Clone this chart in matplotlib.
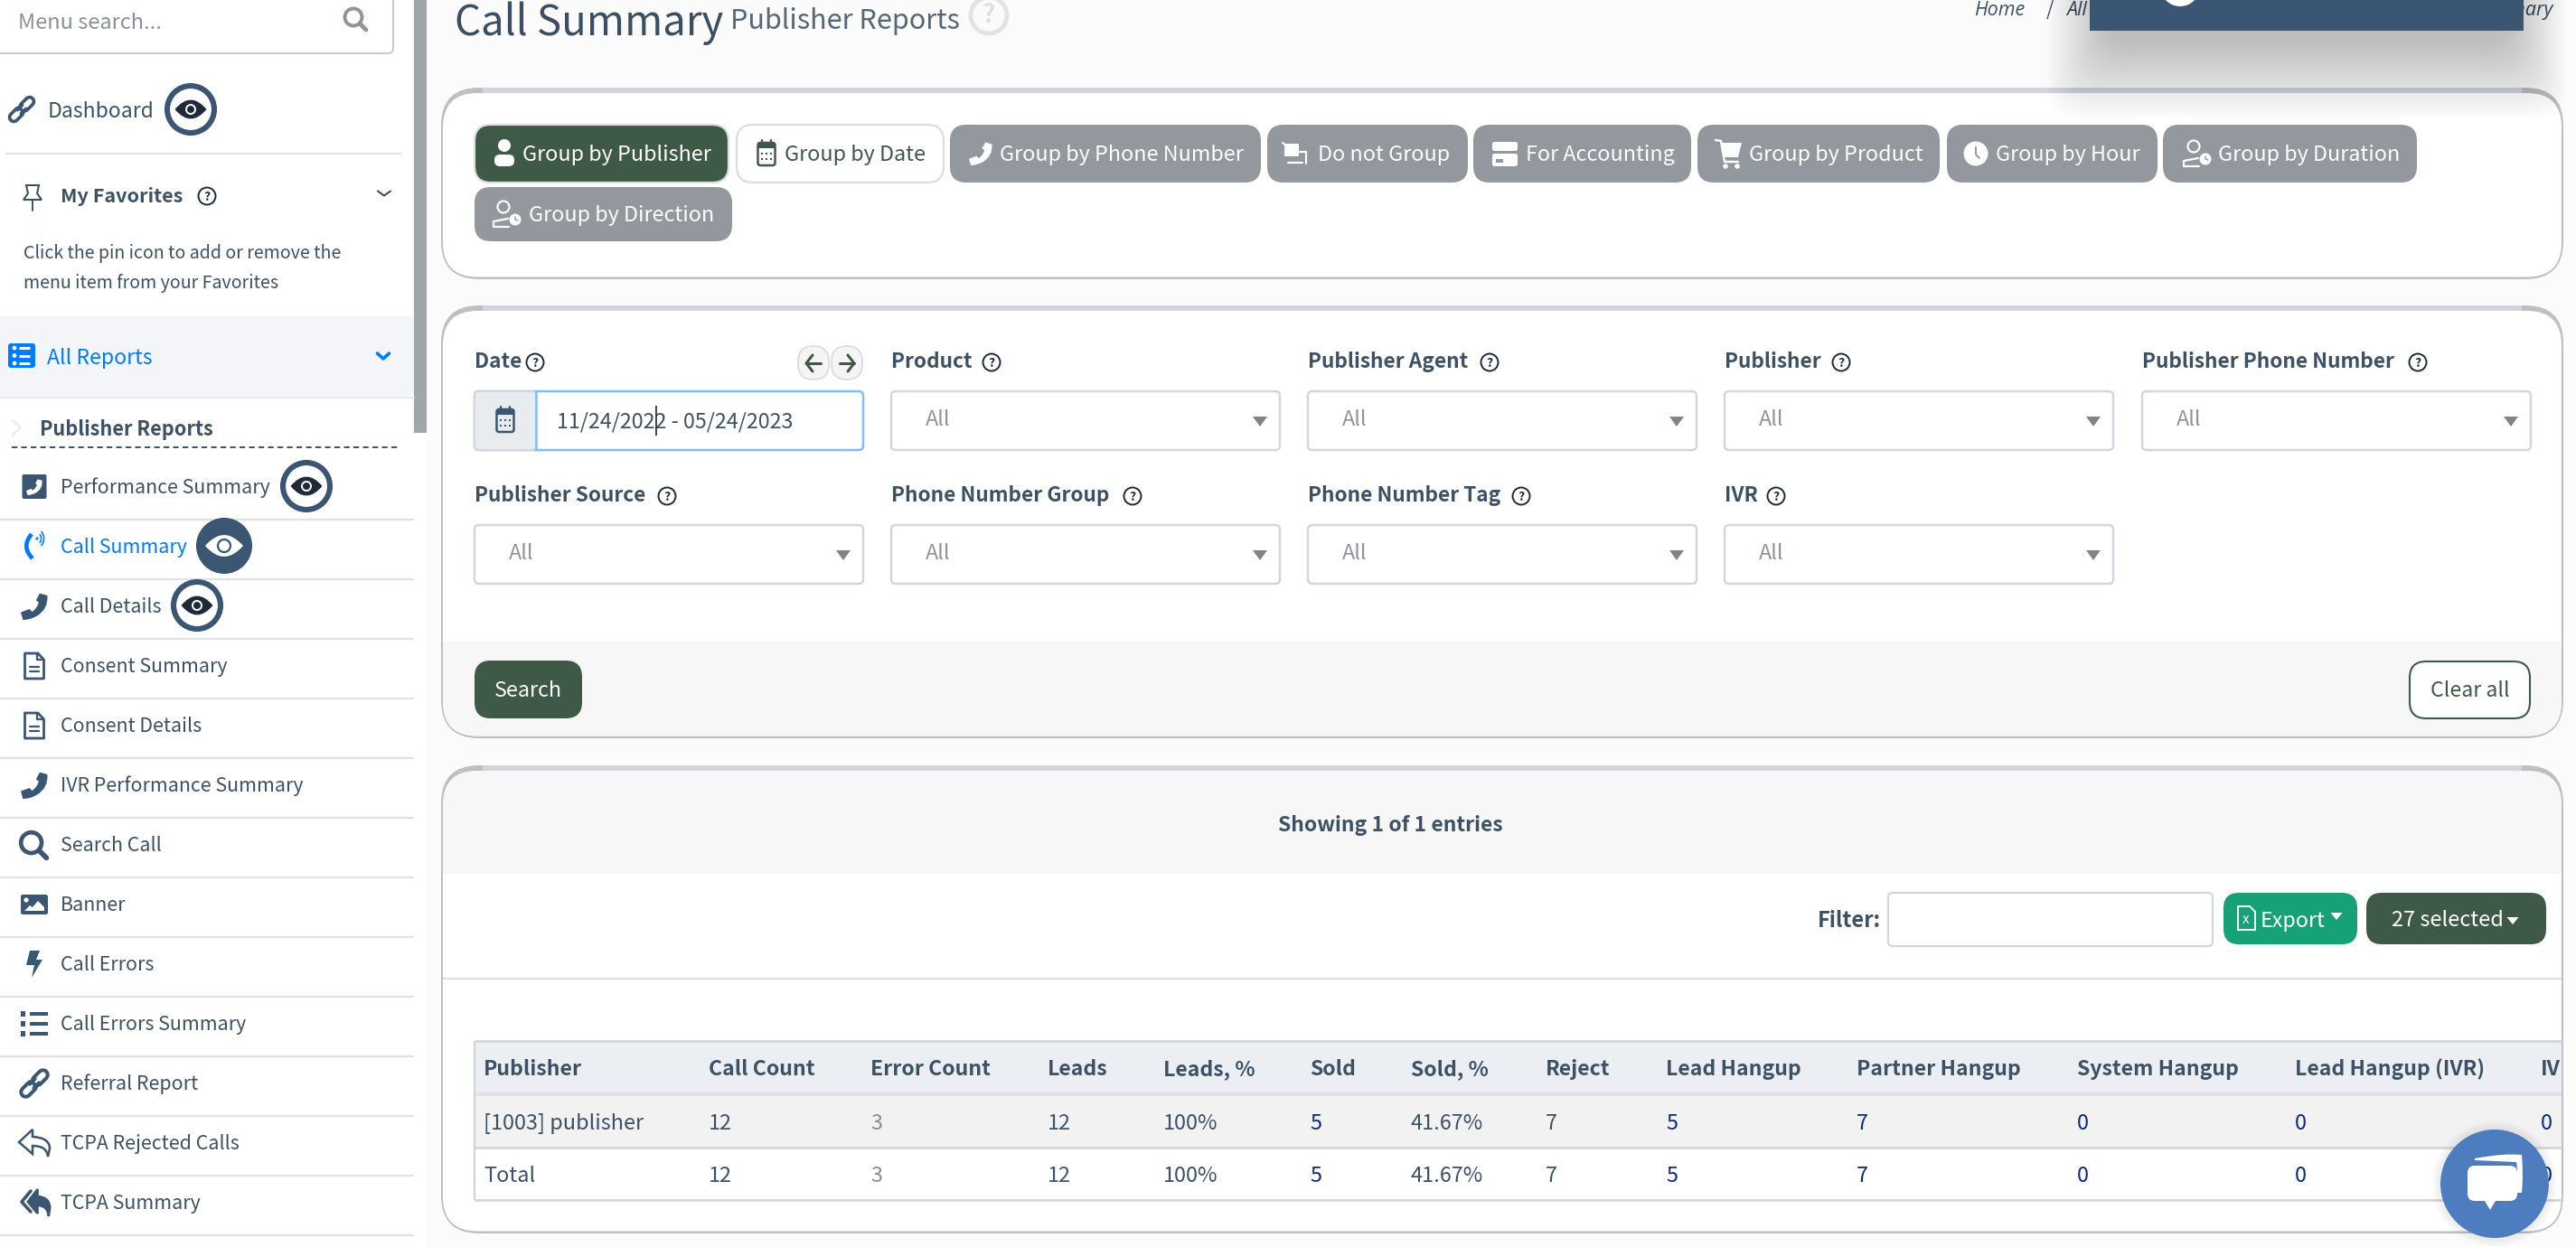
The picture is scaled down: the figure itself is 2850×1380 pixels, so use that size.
import matplotlib
matplotlib.use("Agg")
import matplotlib.pyplot as plt
from matplotlib.patches import FancyBboxPatch, Circle, Rectangle, PathPatch, Polygon, Arc
from matplotlib.path import Path

plt.rcParams['font.family'] = ['Noto Sans CJK SC', 'DejaVu Sans']

# ---------- content ----------
menu_items = ["Performance Summary", "Call Summary", "Call Details", "Consent Summary", "Consent Details",
              "IVR Performance Summary", "Search Call", "Banner", "Call Errors", "Call Errors Summary",
              "Referral Report", "TCPA Rejected Calls", "TCPA Summary"]
menu_icons = ["phonebox", "phonewave", "phone", "doc", "doc", "phone", "search", "image", "bolt", "list",
              "link", "reply", "replyall"]
group_buttons = ["Group by Publisher", "Group by Date", "Group by Phone Number", "Do not Group", "For Accounting",
                 "Group by Product", "Group by Hour", "Group by Duration", "Group by Direction"]
filter_labels_row1 = ["Date", "Product", "Publisher Agent", "Publisher", "Publisher Phone Number"]
filter_labels_row2 = ["Publisher Source", "Phone Number Group", "Phone Number Tag", "IVR"]
date_range = "11/24/2022 - 05/24/2023"
table_headers = ["Publisher", "Call Count", "Error Count", "Leads", "Leads, %", "Sold", "Sold, %", "Reject",
                 "Lead Hangup", "Partner Hangup", "System Hangup", "Lead Hangup (IVR)", "IV"]
row_publisher = ["[1003] publisher", "12", "3", "12", "100%", "5", "41.67%", "7", "5", "7", "0", "0", "0"]
row_total = ["Total", "12", "3", "12", "100%", "5", "41.67%", "7", "5", "7", "0", "0", "0"]

# ---------- layout + colours ----------
INK = "#3d5166"; NAVY = "#3a5673"; GREEN = "#3e5a47"; GREY_BTN = "#92989d"; BLUE = "#007bff"
LINK = "#0b2a86"; MUTED = "#868e96"; RULE = "#e2e3e5"; BORDER = "#d0d5dd"; DARK = "#1e2a3a"
FS_MAIN = 16.9; FS_BOLD = 16.5; FS_MENU = 15.4
menu_y0, menu_dy = 539, 66
btn_boxes = [(525, 806, 138, 202), (815, 1044, 138, 202), (1051, 1395, 138, 202), (1402, 1624, 138, 202),
             (1630, 1871, 138, 202), (1878, 2146, 138, 202), (2154, 2387, 138, 202), (2393, 2674, 138, 202),
             (525, 810, 207, 267)]
btn_text_x = [578, 868, 1106, 1458, 1688, 1935, 2208, 2454, 585]
btn_icon_x = [558, 848, 1085, 1431, 1665, 1912, 2186, 2431, 561]
btn_icons = ["person", "cal", "phone", "nogroup", "card", "cart", "clock", "personclock", "personclock"]
col_x = [535, 784, 963, 1159, 1287, 1449, 1561, 1710, 1843, 2054, 2298, 2539, 2811]
col_color = [INK, INK, MUTED, NAVY, INK, LINK, INK, INK, LINK, LINK, LINK, LINK, LINK]
field_x = [525, 986, 1447, 1908, 2370]
help_x1 = [592, 1097, 1648, 2037, 2675]
help_x2 = [738, 1253, 1683, 1965]

fig = plt.figure(figsize=(28.5, 13.8), dpi=100, facecolor="#fbfbfb")
ax = fig.add_axes([0, 0, 1, 1])
ax.set_xlim(0, 2850); ax.set_ylim(1380, 0); ax.axis("off")


def T(x, yc, s, size=FS_MAIN, color=INK, weight="normal", ha="left", z=5, clip=None, **kw):
    em = size / 0.72
    t = ax.text(x, yc + 0.33 * em, s, fontsize=size, color=color, fontweight=weight, ha=ha, va="baseline",
                zorder=z, **kw)
    if clip is not None:
        t.set_clip_path(clip)
    return t


def RR(x0, x1, y0, y1, r, fc, ec="none", lw=0, z=2, alpha=None):
    p = FancyBboxPatch((x0, y0), x1 - x0, y1 - y0, boxstyle=f"round,pad=0,rounding_size={r}", fc=fc, ec=ec, lw=lw,
                       zorder=z, alpha=alpha)
    ax.add_patch(p)
    return p


def R(x0, x1, y0, y1, fc, z=2, alpha=None):
    p = Rectangle((x0, y0), x1 - x0, y1 - y0, fc=fc, ec="none", zorder=z, alpha=alpha)
    ax.add_patch(p)
    return p


def L(xs, ys, c, lw=1.5, z=6, ls="-", cap="round"):
    ax.plot(xs, ys, color=c, lw=lw, zorder=z, ls=ls, solid_capstyle=cap, solid_joinstyle="round")


def C(x, y, r, fc, ec="none", lw=0, z=6):
    ax.add_patch(Circle((x, y), r, fc=fc, ec=ec, lw=lw, zorder=z))


def P(verts, codes, fc, ec="none", lw=0, z=6):
    ax.add_patch(PathPatch(Path(verts, codes), fc=fc, ec=ec, lw=lw, zorder=z))


def tri(x, y, w, h, c, z=6):
    ax.add_patch(Polygon([(x - w / 2, y - h / 2), (x + w / 2, y - h / 2), (x, y + h / 2)], fc=c, ec="none", zorder=z))


def chevron(x, y, c, lw=1.5, w=7, h=5):
    L([x - w, x, x + w], [y - h / 2, y + h / 2, y - h / 2], c, lw)


def eye_shape(x, y, w, h, fc):
    P([(x - w, y), (x, y - 2 * h), (x + w, y), (x, y + 2 * h), (x - w, y), (x - w, y)],
      [Path.MOVETO, Path.CURVE3, Path.CURVE3, Path.CURVE3, Path.CURVE3, Path.CLOSEPOLY], fc, z=8)


def eye(x, y, active=False):
    if active:
        C(x, y, 31, NAVY, z=7)
        eye_shape(x, y, 21, 12, "white")
        C(x, y, 7, "white", NAVY, 1.6, z=9)
    else:
        C(x, y, 26, "white", NAVY, 4.4, z=7)
        eye_shape(x, y, 17.5, 10.5, DARK)
        C(x, y, 6, "white", z=9); C(x, y, 4, DARK, z=10)


def help_icon(x, y, c=DARK, r=9.5):
    C(x, y, r, "none", c, 1.4)
    ax.text(x, y + 0.5, "?", fontsize=10, color=c, ha="center", va="center", fontweight="bold", zorder=7)


def phone(x, y, s, c):
    pts = [(.70, .02), (.98, .10), (1.02, .60), (.60, .85), (.35, 1.0), (.08, 1.0), (0, .72), (.32, .60), (.42, .70),
           (.62, .55), (.66, .35), (.56, .28), (.70, .02)]
    codes = [Path.MOVETO, Path.LINETO, Path.CURVE3, Path.CURVE3, Path.CURVE3, Path.CURVE3, Path.LINETO, Path.LINETO,
             Path.LINETO, Path.CURVE3, Path.CURVE3, Path.LINETO, Path.CLOSEPOLY]
    P([(x - s / 2 + a * s, y - s / 2 + b * s) for a, b in pts], codes, c, z=7)


def doc(x, y, c):
    ax.add_patch(Polygon([(x - 10.5, y - 14), (x + 4, y - 14), (x + 10.5, y - 7), (x + 10.5, y + 14), (x - 10.5, y + 14)],
                         fc="none", ec=c, lw=2, zorder=6, joinstyle="round"))
    L([x + 3, x + 3, x + 10], [y - 14, y - 7, y - 7], c, 1.6)
    L([x - 5, x + 5], [y + 1, y + 1], c, 1.6)
    L([x - 5, x + 5], [y + 6, y + 6], c, 1.6)


def search(x, y, c, s=1.0):
    C(x - 2 * s, y - 2 * s, 9.5 * s, "none", c, 2.8 * s)
    L([x + 5 * s, x + 12 * s], [y + 5 * s, y + 12 * s], c, 3.4 * s)


def link(x, y, c, s=1.0):
    # two interlocking rounded links along the rising diagonal
    for k, off in enumerate((-5.5, 5.5)):
        cx, cy = x + off * s, y - off * s
        L([cx - 2.8 * s, cx + 2.8 * s], [cy + 2.8 * s, cy - 2.8 * s], c, 9 * s, z=6 + 2 * k)
        L([cx - 2.8 * s, cx + 2.8 * s], [cy + 2.8 * s, cy - 2.8 * s], "white", 4 * s, z=7 + 2 * k)
    L([x - 4.5 * s, x + 0.5 * s], [y + 0.5 * s, y - 4.5 * s], c, 2.6 * s, z=10)
    L([x - 0.5 * s, x + 4.5 * s], [y + 4.5 * s, y - 0.5 * s], c, 2.6 * s, z=10)


def reply(x, y, c, filled):
    pts = [(-17, -1), (-2, -15), (-2, -7), (17, -6), (17, 6), (15, 15), (14, 3), (-2, 3), (-2, 12), (-17, -1)]
    codes = [Path.MOVETO, Path.LINETO, Path.LINETO, Path.CURVE3, Path.CURVE3, Path.LINETO, Path.CURVE3, Path.CURVE3,
             Path.LINETO, Path.CLOSEPOLY]
    if filled:
        pts = [(a * 0.72 + 5, b * 1.0) for a, b in pts]
        L([x - 4, x - 14, x - 4], [y - 13, y - 1, y + 10], c, 2.6)
    P([(x + a, y + b) for a, b in pts], codes, c if filled else "none", c, 1.8, z=7)


def person(x, y, c):
    C(x, y - 9, 7, c, z=7)
    RR(x - 11, x + 11, y + 1, y + 14, 6, c, z=7)


def personclock(x, y, c, bg):
    C(x - 4, y - 8, 6.5, "none", c, 1.6)
    L([x - 15, x - 15, x + 1], [y + 13, y + 8, y + 5], c, 1.6)
    L([x - 15, x + 2], [y + 14, y + 14], c, 1.6)
    C(x + 9, y + 6, 6.5, c, z=7)
    L([x + 9, x + 9, x + 12], [y + 3, y + 6, y + 7], bg, 1, z=8)


def cal(x, y, c, bg="none"):
    RR(x - 9.5, x + 9.5, y - 12, y + 13, 2.5, bg, c, 1.8, z=6)
    R(x - 9.5, x + 9.5, y - 12, y - 6, c, z=7)
    for dx in (-5, 5):
        L([x + dx, x + dx], [y - 15, y - 10], c, 1.6, z=7)
    for dx in (-5, 0, 5):
        for dy in (0, 6):
            R(x + dx - 1.4, x + dx + 1.4, y + dy - 1.4, y + dy + 1.4, c, z=7)


def icon(kind, x, y, c, bg="white"):
    if kind == "person":
        person(x, y, c)
    elif kind == "cal":
        cal(x, y, c)
    elif kind == "phone":
        phone(x, y, 26, c)
    elif kind == "nogroup":
        RR(x - 10, x + 6, y - 11, y + 3, 1, c, z=7)
        L([x - 12, x - 8], [y - 12, y - 9], c, 1.6)
        L([x + 7, x + 14, x + 14], [y - 2, y - 2, y + 11], c, 1.6)
        L([x - 6, x + 10], [y + 10, y + 10], c, 1.6)
    elif kind == "card":
        RR(x - 14, x + 14, y - 13, y - 3, 2.5, c, z=7)
        RR(x - 14, x + 14, y + 0, y + 14, 2.5, c, z=7)
        R(x - 10, x - 2, y + 6, y + 10, bg, z=8)
    elif kind == "cart":
        L([x - 14, x - 8, x - 4, x + 11], [y - 15, y - 14, y + 9, y + 9], c, 1.8)
        ax.add_patch(Polygon([(x - 8, y - 12), (x + 15, y - 12), (x + 11, y + 4), (x - 5, y + 4)], fc=c, ec="none", zorder=7))
        C(x - 3, y + 14, 2.8, c); C(x + 10, y + 14, 2.8, c)
    elif kind == "clock":
        C(x, y, 13.5, c, z=7)
        L([x, x, x + 4], [y - 7, y + 1, y + 5], bg, 1.4, z=8)
    elif kind == "personclock":
        personclock(x, y, c, bg)


def panel(y0, y1):
    x0, x1 = 488, 2836
    RR(x0, x1, y0, y1, 42, "#bcbfc3", z=1)
    R(x0 + 46, x1 - 46, y0, y0 + 6, BORDER, z=3)
    return RR(x0 + 2, x1 - 2, y0 + 6, y1 - 2.5, 38, "white", z=2)


# ---------- sidebar ----------
R(0, 472, 0, 1380, "white", z=0)
R(458, 472, 0, 479, "#a1a6a9", z=1)
RR(-30, 435, -30, 59, 6, "white", "#c8c9cb", 1.4, z=2)
T(20, 24, "Menu search...", 17, "#8b929a")
search(393, 21, "#8f959a", 1.0)
link(24, 121, NAVY, 1.05)
T(53, 122, "Dashboard", 16.5, INK)
eye(211, 121)
L([6, 444], [170, 170], RULE, 1.4)
# pin icon
L([36, 36], [222, 233], INK, 1.4)
ax.add_patch(Polygon([(29, 205), (43, 205), (41, 214), (46, 221), (26, 221), (31, 214)], fc="none", ec=INK, lw=1.5, zorder=6))
T(67, 217, "My Favorites", 15.5, INK, "bold")
help_icon(229, 217)
chevron(425, 214, INK, 1.5)
T(26, 280, "Click the pin icon to add or remove the", 14.1, INK)
T(26, 313, "menu item from your Favorites", 14.1, INK)
RR(-30, 458, 350, 438, 6, "#f3f5f9", z=1)
L([0, 458], [440, 440], "#e8e8ea", 1.6, z=1)
RR(9, 39, 380, 407, 3, BLUE, z=6)
for dy in (-8.5, 0, 8.5):
    C(16, 393.5 + dy, 2.4, "white", z=7)
    L([21, 33], [393.5 + dy, 393.5 + dy], "white", 2.2, z=7, cap="butt")
T(52, 395, "All Reports", 16.6, BLUE)
chevron(424, 394, BLUE, 2.6, 6.5, 6)
L([14, 23, 14], [465, 473, 481], "#eeeeee", 2)
T(44, 475, "Publisher Reports", 15.6, INK, "bold")
L([13, 443], [495, 495], INK, 1.4, ls=(0, (3.2, 2.2)), cap="butt")
for i, (item, kind) in enumerate(zip(menu_items, menu_icons)):
    y = menu_y0 + i * menu_dy
    T(67, y, item, FS_MENU, BLUE if i == 1 else INK)
    L([0, 458], [y + 36, y + 36], RULE, 1.6, z=1, cap="butt")
    ic = 38
    if kind == "phonebox":
        RR(ic - 13.5, ic + 13.5, y - 14, y + 13, 2, NAVY, z=6)
        phone(ic, y, 18, "white")
    elif kind == "phonewave":
        P([(35, y - 14), (23, y), (36, y + 13)], [Path.MOVETO, Path.CURVE3, Path.CURVE3], "none", BLUE, 3.4, z=7)
        C(41, y - 9, 1.6, BLUE)
        ax.add_patch(Arc((41, y - 9), 9, 12, theta1=-60, theta2=60, ec=BLUE, lw=1.2, zorder=7))
        ax.add_patch(Arc((41, y - 9), 15, 20, theta1=-60, theta2=60, ec=BLUE, lw=1.2, zorder=7))
    elif kind == "phone":
        phone(ic, y, 30, NAVY)
    elif kind == "doc":
        doc(ic, y, NAVY)
    elif kind == "search":
        search(ic - 1, y, NAVY, 1.2)
    elif kind == "image":
        RR(ic - 15, ic + 15, y - 11, y + 11, 2.5, NAVY, z=6)
        C(ic - 9, y - 5, 2.6, "white", z=7)
        ax.add_patch(Polygon([(ic - 11, y + 7), (ic - 5, y + 1), (ic - 2, y + 3), (ic + 4, y - 4), (ic + 11, y + 3), (ic + 11, y + 7)], fc="white", ec="none", zorder=7))
    elif kind == "bolt":
        ax.add_patch(Polygon([(ic - 5, y - 15), (ic + 6, y - 15), (ic + 2, y - 5), (ic + 9, y - 5), (ic - 3, y + 15), (ic, y + 1), (ic - 9, y + 1)], fc=NAVY, ec="none", zorder=6))
    elif kind == "list":
        for dy in (-11, 0, 11):
            R(ic - 15, ic - 10, y + dy - 3, y + dy + 3, NAVY, z=6)
            R(ic - 5, ic + 15, y + dy - 1.8, y + dy + 1.8, NAVY, z=6)
    elif kind == "link":
        link(ic, y, NAVY, 1.15)
    elif kind == "reply":
        reply(ic, y, NAVY, False)
    elif kind == "replyall":
        reply(ic, y, NAVY, True)
eye(339, 538)
eye(248, 604, True)
eye(218, 670)

# ---------- page header ----------
T(503, 24, "Call Summary", 32.8, "#3a4f63")
T(808, 22, "Publisher Reports", 22, "#55687a", "light")
C(1094, 17, 20, "none", "#e3e3e3", 3.5, z=4)
ax.text(1094, 17, "?", fontsize=20, color="#e0e0e0", ha="center", va="center", fontweight="bold", zorder=4)
for bx, bs, bha in ((2184, "Home", "left"), (2286, "All", "left"), (2824, "Call Summary", "right")):
    T(bx, 10, bs, 15.5, INK, ha=bha, family="Open Sans", style="italic")
T(2268, 10, "/", 15.5, INK, ha="center")

# ---------- panels ----------
clip1 = panel(97, 309)
clip2 = panel(338, 817)
clip3 = panel(847, 1365)

for i, (label, box) in enumerate(zip(group_buttons, btn_boxes)):
    fc = GREEN if i == 0 else ("white" if i == 1 else GREY_BTN)
    ec = "#dddddd" if i < 2 else "none"
    RR(box[0], box[1], box[2], box[3], 18, fc, ec, 1.6 if i < 2 else 0, z=4)
    tc = GREEN if i == 1 else "white"
    yc = (box[2] + box[3]) / 2
    T(btn_text_x[i], yc, label, 16.8, tc)
    icon(btn_icons[i], btn_icon_x[i], yc, tc, fc)

# filter labels and fields
for x, label, hx in zip(field_x, filter_labels_row1, help_x1):
    T(x, 400, label, 16.3, INK, "bold")
    help_icon(hx, 401)
for x, label, hx in zip(field_x, filter_labels_row2, help_x2):
    T(x, 548, label, 16.3, INK, "bold")
    help_icon(hx, 549)


def select(x, y0, y1):
    RR(x, x + 430, y0, y1, 5, "white", "#d3d6de", 1.8, z=3)
    yc = (y0 + y1) / 2
    T(x + 38, yc - 2, "All", FS_MAIN, "#8f959b")
    tri(x + 408, yc + 1, 16, 11, "#7e8489")


for x in field_x[1:]:
    select(x, 433, 498)
for x in field_x[:4]:
    select(x, 581, 646)
RR(525, 955, 433, 498, 5, "white", "#80bdff", 1.8, z=3)
RR(525, 593, 433, 498, 5, "#e9ecef", "#d3d6de", 1.4, z=3)
L([593, 593], [433, 498], "#80bdff", 1.8, z=4, cap="butt")
cal(559, 465, NAVY)
T(616, 466, date_range, 16.8, INK)
L([726, 726], [449, 482], DARK, 1.2, z=7, cap="butt")
for cx, d in ((900, -1), (937, 1)):
    RR(cx - 17, cx + 17, 383, 420, 17, "#f5f5f5", "#dcdcdc", 1.3, z=4)
    L([cx - 8, cx + 8], [402, 402], GREEN, 2.2)
    L([cx + d * 1, cx + d * 8, cx + d * 1], [393, 402, 411], GREEN, 2.2)

# search footer
f = R(490, 2834, 710, 815, "#f7f7f7", z=3)
f.set_clip_path(clip2)
RR(525, 644, 731, 795, 18, GREEN, z=4)
T(584, 763, "Search", 16.8, "white", ha="center")
RR(2666, 2799, 732, 795, 18, "white", GREEN, 1.5, z=4)
T(2733, 763, "Clear all", 16.6, GREEN, ha="center")

# results head
h = R(490, 2834, 853, 967, "#f7f7f7", z=3)
h.set_clip_path(clip3)
T(1538, 912, "Showing 1 of 1 entries", FS_BOLD, INK, "bold", ha="center")
T(2011, 1018, "Filter:", 17, INK, "bold")
RR(2089, 2448, 988, 1047, 5, "white", "#d3d6de", 1.6, z=3)
RR(2460, 2608, 988, 1045, 17, "#17a176", z=4)
ax.add_patch(Polygon([(2476, 1003), (2489, 1003), (2495, 1009), (2495, 1029), (2476, 1029)], fc="none", ec="white", lw=1.4, zorder=6))
ax.text(2485, 1018, "x", fontsize=11, color="white", ha="center", va="center", zorder=7)
T(2501, 1018, "Export", 16.8, "white")
tri(2585, 1014, 13, 8, "white")
RR(2618, 2817, 988, 1045, 17, GREEN, z=4)
T(2646, 1017, "27 selected", 17, "white")
tri(2780, 1019, 13, 8, "white")
L([490, 2834], [1083, 1083], "#dfe0e2", 1.6, z=3, cap="butt")

# table
R(525, 2834, 1152, 1209, "#ebeef3", z=3)
R(525, 2834, 1209, 1213, "#dee1e5", z=3)
R(525, 2834, 1213, 1269, "#f2f2f2", z=3)
for y in (1152, 1270, 1328):
    L([525, 2834], [y, y], "#d2d3d5", 1.8, z=4, cap="butt")
L([525, 525], [1152, 1328], "#d2d3d5", 1.6, z=4, cap="butt")
clip_tbl = Rectangle((525, 1140), 2834 - 525, 200, transform=ax.transData)
for i, x in enumerate(col_x):
    T(x, 1182, table_headers[i], 16.6, INK, "bold", clip=clip_tbl)
    T(x, 1242, row_publisher[i], FS_MAIN, col_color[i], clip=clip_tbl)
    T(x, 1300, row_total[i], FS_MAIN, col_color[i], clip=clip_tbl)

# top notification box and its shadow
for i in range(30):
    RR(2265 + i * 2.2, 2840 - i * 2.2, -60, 132 - i * 2.8, 34, "black", z=20, alpha=0.0095)
R(2312, 2792, 0, 34, NAVY, z=21)
C(2412, -15, 22, "white", z=22)

# chat button
for i in range(8):
    ax.add_patch(Circle((2760, 1310), 70 - i, fc="black", ec="none", alpha=0.006, zorder=23))
C(2760, 1310, 60, "#4d7cbf", z=24)
P([(2738, 1282), (2770, 1276), (2790, 1278), (2792, 1300), (2790, 1320), (2784, 1320), (2786, 1296), (2784, 1286), (2738, 1284), (2738, 1282)],
  [Path.MOVETO, Path.CURVE3, Path.CURVE3, Path.CURVE3, Path.CURVE3, Path.LINETO, Path.CURVE3, Path.CURVE3, Path.LINETO, Path.CLOSEPOLY], "white", z=25)
RR(2730, 2785, 1290, 1329, 8, "white", z=25)
ax.add_patch(Polygon([(2749, 1329), (2761, 1329), (2755, 1339)], fc="white", ec="none", zorder=25))

fig.savefig("out.png", dpi=100, facecolor=fig.get_facecolor())
